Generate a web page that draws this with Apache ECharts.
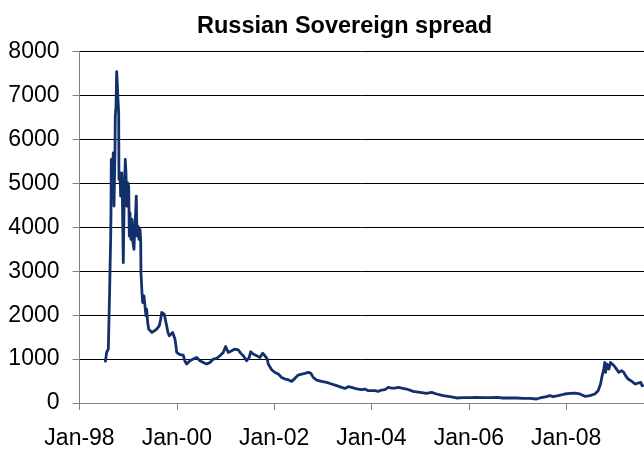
<!DOCTYPE html>
<html>
<head>
<meta charset="utf-8">
<title>Russian Sovereign spread</title>
<script src="https://cdn.jsdelivr.net/npm/echarts@6/dist/echarts.min.js"></script>
<style>
  html, body { margin: 0; padding: 0; background: #fff; }
  #chart { width: 644px; height: 450px; }
</style>
</head>
<body>
<div id="chart"></div>
<script>
// Observation times as decimal years, and the spread (bp) at each time
const years = [
  1998.530, 1998.559, 1998.592, 1998.606, 1998.620, 1998.641, 1998.647, 1998.653, 1998.668, 1998.682,
  1998.694, 1998.709, 1998.729, 1998.735, 1998.750, 1998.764, 1998.776, 1998.791, 1998.805, 1998.811,
  1998.832, 1998.846, 1998.867, 1998.879, 1998.900, 1998.920, 1998.941, 1998.955, 1998.970, 1998.990,
  1999.011, 1999.023, 1999.037, 1999.058, 1999.078, 1999.099, 1999.120, 1999.134, 1999.154, 1999.167,
  1999.181, 1999.202, 1999.222, 1999.243, 1999.257, 1999.263, 1999.284, 1999.298, 1999.325, 1999.352,
  1999.366, 1999.380, 1999.401, 1999.422, 1999.448, 1999.489, 1999.537, 1999.586, 1999.639, 1999.668,
  1999.689, 1999.715, 1999.742, 1999.771, 1999.791, 1999.818, 1999.845, 1999.880, 1999.915, 1999.941,
  1999.962, 1999.982, 1999.997, 2000.030, 2000.064, 2000.132, 2000.167, 2000.202, 2000.229, 2000.270,
  2000.338, 2000.408, 2000.475, 2000.543, 2000.613, 2000.681, 2000.749, 2000.818, 2000.886, 2000.954,
  2001.003, 2001.057, 2001.127, 2001.194, 2001.262, 2001.311, 2001.365, 2001.435, 2001.488, 2001.517,
  2001.570, 2001.640, 2001.708, 2001.763, 2001.811, 2001.858, 2001.878, 2001.948, 2002.016, 2002.084,
  2002.154, 2002.222, 2002.289, 2002.359, 2002.427, 2002.495, 2002.565, 2002.632, 2002.700, 2002.756,
  2002.803, 2002.873, 2002.975, 2003.078, 2003.181, 2003.284, 2003.386, 2003.454, 2003.522, 2003.592,
  2003.659, 2003.727, 2003.797, 2003.865, 2003.933, 2004.003, 2004.070, 2004.138, 2004.208, 2004.276,
  2004.343, 2004.413, 2004.481, 2004.549, 2004.619, 2004.722, 2004.857, 2004.995, 2005.132, 2005.235,
  2005.338, 2005.473, 2005.611, 2005.749, 2005.884, 2006.022, 2006.159, 2006.295, 2006.433, 2006.570,
  2006.706, 2006.843, 2006.981, 2007.117, 2007.254, 2007.392, 2007.460, 2007.597, 2007.665, 2007.733,
  2007.836, 2007.871, 2007.973, 2008.076, 2008.179, 2008.281, 2008.384, 2008.487, 2008.590, 2008.657,
  2008.707, 2008.740, 2008.774, 2008.795, 2008.809, 2008.842, 2008.877, 2008.912, 2008.945, 2008.986,
  2009.035, 2009.083, 2009.138, 2009.185, 2009.220, 2009.274, 2009.329, 2009.376, 2009.425, 2009.479,
  2009.534, 2009.561, 2009.596
];

const spread = [
   924, 1159, 1227, 1909, 2600, 3800, 4340, 5545, 4712, 5394,
  5697, 4485, 5697, 6530, 6757, 7545, 7288, 6909, 6606, 5091,
  5242, 4712, 5242, 4864, 3197, 4788, 5545, 5242, 4485, 5015,
  4939, 3803, 4333, 3727, 4182, 3651, 3500, 3955, 4333, 4712,
  3803, 4030, 3727, 3955, 3727, 2970, 2515, 2288, 2439, 2439,
  1985, 2136, 1833, 1682, 1644, 1606, 1644, 1682, 1758, 1909,
  2061, 2098, 2023, 1985, 1758, 1606, 1530, 1492, 1606, 1568,
  1455, 1303, 1152, 1114, 1100, 1090,  950,  886,  900,  962,
  1000, 1038,  962,  924,  886,  924, 1000, 1015, 1076, 1152,
  1288, 1152, 1189, 1227, 1212, 1136, 1076,  962, 1038, 1167,
  1114, 1076, 1038, 1136, 1076, 1000,  886,  758,  697,  659,
   583,  545,  530,  492,  561,  636,  659,  674,  697,  674,
   583,  523,  492,  470,  432,  394,  356,  333,  371,  356,
   333,  318,  303,  318,  280,  280,  280,  265,  295,  303,
   356,  341,  341,  356,  341,  318,  265,  242,  220,  242,
   205,  167,  144,  114,  121,  121,  129,  121,  121,  129,
   114,  114,  114,  106,  106,   91,  114,  144,  167,  144,
   167,  182,  205,  220,  227,  205,  152,  167,  205,  280,
   432,  621,  773,  924,  697,  886,  773,  924,  939,  848,
   773,  697,  735,  697,  621,  545,  508,  470,  432,  455,
   470,  394,  409
];

// Axis range and tick spacing
const xStart = 1998;
const xEnd = 2009.6;
const xStep = 2;
const yMax = 8000;
const yStep = 1000;

const chart = echarts.init(document.getElementById('chart'), null, { renderer: 'canvas' });

const FONT = '"Liberation Sans", Arial, sans-serif';

chart.setOption({
  animation: false,
  backgroundColor: '#ffffff',
  title: {
    text: 'Russian Sovereign spread',
    left: 197,
    top: 15,
    padding: 0,
    textStyle: { fontFamily: FONT, fontSize: 23.5, fontWeight: 'bold', color: '#000' }
  },
  grid: { left: 79.5, right: 0, top: 51.7, bottom: 46.7, containLabel: false },
  xAxis: {
    type: 'value',
    min: xStart,
    max: xEnd,
    interval: xStep,
    axisLine: { show: true, lineStyle: { color: '#808080', width: 1 } },
    axisTick: { show: true, inside: false, length: 7, lineStyle: { color: '#808080', width: 1 } },
    splitLine: { show: false },
    axisLabel: {
      showMaxLabel: false,
      margin: 24,
      fontFamily: FONT, fontSize: 23, color: '#000',
      formatter: v => 'Jan-' + String(Math.round(v)).slice(2)
    }
  },
  yAxis: {
    type: 'value',
    min: 0,
    max: yMax,
    interval: yStep,
    axisLine: { show: true, lineStyle: { color: '#808080', width: 1 } },
    axisTick: { show: true, inside: false, length: 7, lineStyle: { color: '#808080', width: 1 } },
    splitLine: { show: true, lineStyle: { color: '#000', width: 1 } },
    axisLabel: {
      margin: 20,
      fontFamily: FONT, fontSize: 23, color: '#000',
      formatter: v => String(v)
    }
  },
  series: [{
    type: 'line',
    data: years.map((t, i) => [t, spread[i]]),
    showSymbol: false,
    smooth: false,
    lineStyle: { color: '#12306b', width: 2.8, join: 'round' },
    z: 5
  }]
});
</script>
</body>
</html>
